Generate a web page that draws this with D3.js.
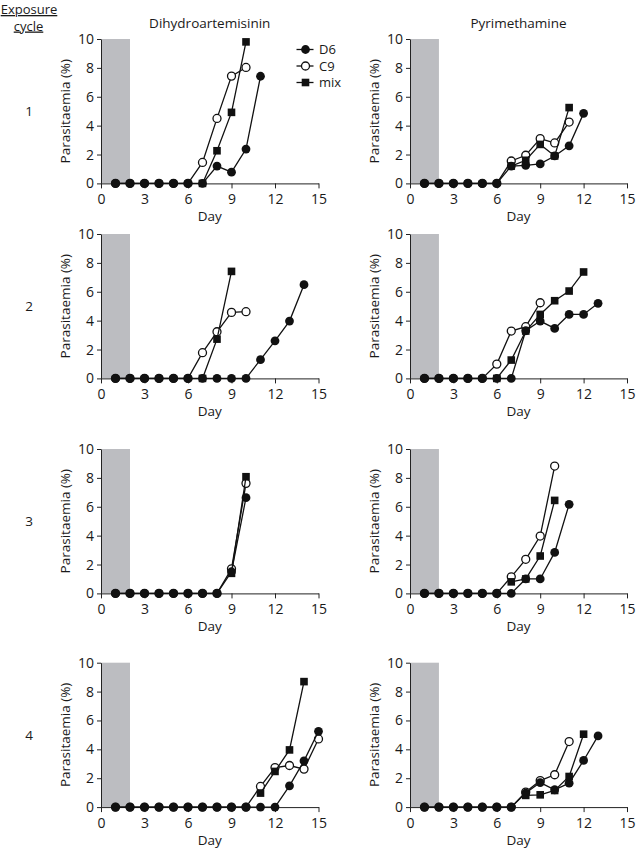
<!DOCTYPE html>
<html><head><meta charset="utf-8">
<script src="https://cdn.jsdelivr.net/npm/d3@7"></script>
<style>body{margin:0;background:#fff} text{font-family:"Open Sans",sans-serif;fill:#1a1a1a}</style>
</head><body><svg id="c" width="636" height="852"></svg>
<script>
const drugs = ["Dihydroartemisinin", "Pyrimethamine"];
const cycles = ["1", "2", "3", "4"];
const seriesNames = ["D6", "C9", "mix"];
const xTicks = [0, 3, 6, 9, 12, 15];
const yTicks = [0, 2, 4, 6, 8, 10];
const exposureWindow = [0, 2];
const firstDay = 1;

// Parasitaemia (%) by day, starting at day 1; null = no visible point
const dhaC1_D6  = [0, 0, 0, 0, 0, 0, 0, 1.2, 0.78, 2.38, 7.42];
const dhaC1_C9  = [0, 0, 0, 0, 0, 0, 1.45, 4.5, 7.43, 8.03];
const dhaC1_mix = [null, null, null, null, null, null, 0, 2.26, 4.92, 9.8];
const pyrC1_D6  = [0, 0, 0, 0, 0, 0, 1.2, 1.25, 1.35, 1.9, 2.6, 4.85];
const pyrC1_C9  = [0, 0, 0, 0, 0, 0, 1.55, 1.95, 3.1, 2.8, 4.25];
const pyrC1_mix = [null, null, null, null, null, null, 1.2, 1.6, 2.7, 1.9, 5.25];

const dhaC2_D6  = [0, 0, 0, 0, 0, 0, 0, 0, 0, 0, 1.3, 2.6, 3.97, 6.49];
const dhaC2_C9  = [0, 0, 0, 0, 0, 0, 1.78, 3.23, 4.57, 4.62];
const dhaC2_mix = [null, null, null, null, null, null, 0, 2.72, 7.41];
const pyrC2_D6  = [0, 0, 0, 0, 0, 0, 0, 3.3, 3.97, 3.46, 4.43, 4.43, 5.2];
const pyrC2_C9  = [0, 0, 0, 0, 0, 0.99, 3.28, 3.58, 5.24];
const pyrC2_mix = [null, null, null, null, null, 0, 1.27, 3.28, 4.43, 5.38, 6.05, 7.37];

const dhaC3_D6  = [0, 0, 0, 0, 0, 0, 0, 0, 1.5, 6.63];
const dhaC3_C9  = [0, 0, 0, 0, 0, 0, 0, 0, 1.7, 7.62];
const dhaC3_mix = [null, null, null, null, null, null, null, null, 1.39, 8.08];
const pyrC3_D6  = [0, 0, 0, 0, 0, 0, 0, 1.0, 1.0, 2.84, 6.17];
const pyrC3_C9  = [0, 0, 0, 0, 0, 0, 1.15, 2.36, 3.97, 8.82];
const pyrC3_mix = [null, null, null, null, null, null, 0.8, 1.0, 2.59, 6.44];

const dhaC4_D6  = [0, 0, 0, 0, 0, 0, 0, 0, 0, 0, 0, 0, 1.47, 3.2, 5.25];
const dhaC4_C9  = [0, 0, 0, 0, 0, 0, 0, 0, 0, 0, 1.43, 2.74, 2.88, 2.63, 4.72];
const dhaC4_mix = [null, null, null, null, null, null, null, null, null, null, 0.97, 2.47, 3.96, 8.69];
const pyrC4_D6  = [0, 0, 0, 0, 0, 0, 0, 0.97, 1.7, 1.2, 1.66, 3.23, 4.93];
const pyrC4_C9  = [0, 0, 0, 0, 0, 0, 0, 1.04, 1.84, 2.24, 4.54];
const pyrC4_mix = [null, null, null, null, null, null, null, 0.81, 0.85, 1.15, 2.12, 5.05];

const panels = [
  [{D6: dhaC1_D6, C9: dhaC1_C9, mix: dhaC1_mix}, {D6: pyrC1_D6, C9: pyrC1_C9, mix: pyrC1_mix}],
  [{D6: dhaC2_D6, C9: dhaC2_C9, mix: dhaC2_mix}, {D6: pyrC2_D6, C9: pyrC2_C9, mix: pyrC2_mix}],
  [{D6: dhaC3_D6, C9: dhaC3_C9, mix: dhaC3_mix}, {D6: pyrC3_D6, C9: pyrC3_C9, mix: pyrC3_mix}],
  [{D6: dhaC4_D6, C9: dhaC4_C9, mix: dhaC4_mix}, {D6: pyrC4_D6, C9: pyrC4_C9, mix: pyrC4_mix}]
];

const svg = d3.select("#c");
const INK = "#111";
const colX = [[101, 318.5], [410, 627]];
const rowTop = [39, 234, 449, 662.7];
const plotH = 144.4;
const FS = 13.5;
const TFS = 14;

function marker(sel, name) {
  if (name === "mix") {
    sel.append("rect").attr("x", -3.8).attr("y", -3.8).attr("width", 7.6).attr("height", 7.6).attr("fill", INK);
  } else if (name === "C9") {
    sel.append("circle").attr("r", 4).attr("fill", "#fff").attr("stroke", INK).attr("stroke-width", 1.3);
  } else {
    sel.append("circle").attr("r", 4.4).attr("fill", INK);
  }
}

// header
svg.append("text").attr("x", 29).attr("y", 14).attr("text-anchor", "middle")
  .attr("font-size", 13).attr("text-decoration", "underline").text("Exposure");
svg.append("text").attr("x", 28.5).attr("y", 30.5).attr("text-anchor", "middle")
  .attr("font-size", 13).attr("text-decoration", "underline").text("cycle");

drugs.forEach((drug, c) => {
  svg.append("text").attr("x", (colX[c][0] + colX[c][1]) / 2).attr("y", 28)
    .attr("text-anchor", "middle").attr("font-size", FS).text(drug);
});

cycles.forEach((cyc, r) => {
  svg.append("text").attr("x", 29).attr("y", rowTop[r] + plotH / 2 + 5)
    .attr("text-anchor", "middle").attr("font-size", FS).text(cyc);

  drugs.forEach((drug, c) => {
    const x = d3.scaleLinear().domain([0, 15]).range(colX[c]);
    const y = d3.scaleLinear().domain([0, 10]).range([rowTop[r] + plotH, rowTop[r]]);
    const g = svg.append("g");

    g.append("rect")
      .attr("x", x(exposureWindow[0])).attr("y", y(10))
      .attr("width", x(exposureWindow[1]) - x(exposureWindow[0]))
      .attr("height", y(0) - y(10)).attr("fill", "#bcbdc1");

    const ax = g.append("g").attr("transform", `translate(0,${y(0)})`)
      .call(d3.axisBottom(x).tickValues(xTicks).tickSize(5).tickSizeOuter(0).tickPadding(6));
    const ay = g.append("g").attr("transform", `translate(${x(0)},0)`)
      .call(d3.axisLeft(y).tickValues(yTicks).tickSize(4).tickSizeOuter(0).tickPadding(3));
    [ax, ay].forEach(a => {
      a.selectAll("path,line").attr("stroke", "#222").attr("stroke-width", 1);
      a.selectAll("text").attr("font-size", TFS).attr("font-family", '"Open Sans",sans-serif').attr("fill", "#1a1a1a");
    });

    g.append("text").attr("x", (colX[c][0] + colX[c][1]) / 2).attr("y", y(0) + 38)
      .attr("text-anchor", "middle").attr("font-size", FS).text("Day");
    g.append("text").attr("transform", `translate(${x(0) - 31},${(y(0) + y(10)) / 2}) rotate(-90)`)
      .attr("text-anchor", "middle").attr("font-size", FS).text("Parasitaemia (%)");

    const data = panels[r][c];
    const line = d3.line().defined(d => d.v !== null).x(d => x(d.day)).y(d => y(d.v));
    ["C9", "D6", "mix"].forEach(name => {
      const pts = data[name].map((v, i) => ({day: firstDay + i, v}));
      const defined = pts.filter(d => d.v !== null);
      g.append("path").datum(defined).attr("d", line)
        .attr("fill", "none").attr("stroke", INK).attr("stroke-width", 1.3);
      g.selectAll(null).data(defined).enter().append("g")
        .attr("transform", d => `translate(${x(d.day)},${y(d.v)})`)
        .each(function () { marker(d3.select(this), name); });
    });
  });
});

// legend
const legY = [49.5, 66, 82.5];
seriesNames.forEach((name, i) => {
  const lg = svg.append("g").attr("transform", `translate(305.5,${legY[i]})`);
  lg.append("line").attr("x1", -9).attr("x2", 8).attr("stroke", INK).attr("stroke-width", 1.3);
  marker(lg, name);
  svg.append("text").attr("x", 319).attr("y", legY[i] + 4.5).attr("font-size", 13).text(name);
});
</script></body></html>
